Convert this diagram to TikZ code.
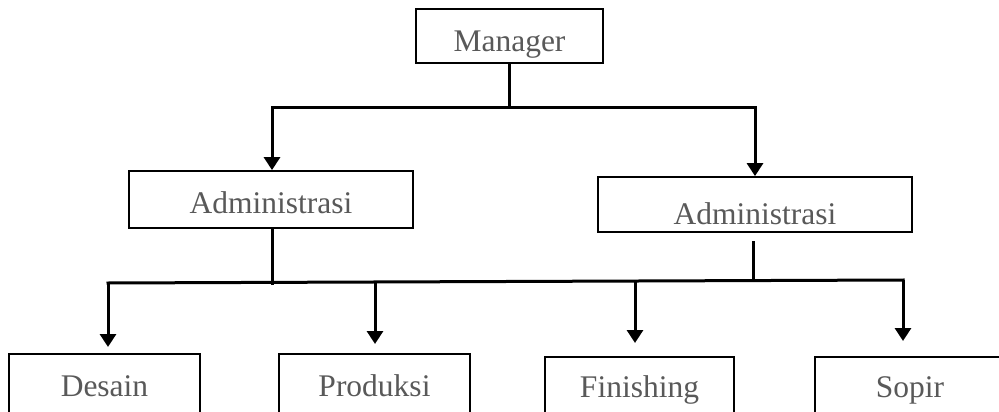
\documentclass[tikz,border=0pt]{standalone}
\usepackage{fontspec}
\setmainfont{Liberation Serif}
\usetikzlibrary{arrows.meta}
\begin{document}
\begin{tikzpicture}[x=1pt,y=-1pt,
  box/.style={draw=black,line width=1.8pt,fill=white,rectangle,inner sep=0pt,
    text=black!65,font=\fontsize{31.5}{36}\selectfont,text depth=0pt},
  conn/.style={line width=3pt,line cap=rect},
  arr/.style={line width=3pt,-{Triangle[width=16pt,length=13pt]}}]
\useasboundingbox (0,0) rectangle (999,412);
\clip (0,0) rectangle (999,412);
\node[box,minimum width=187pt,minimum height=54pt,text height=32pt] (man) at (509.5,36) {Manager};
\node[box,minimum width=284pt,minimum height=57pt,text height=27pt] (adl) at (271,199.5) {Administrasi};
\node[box,minimum width=314pt,minimum height=55pt,text height=39pt] (adr) at (755,204.5) {Administrasi};
\node[box,minimum width=191pt,minimum height=62pt,text height=22pt] (des) at (104.5,385) {Desain};
\node[box,minimum width=191pt,minimum height=62pt,text height=22pt] (pro) at (374.5,385) {Produksi};
\node[box,minimum width=189pt,minimum height=62pt,text height=18pt] (fin) at (639.5,388) {Finishing};
\node[box,minimum width=190pt,minimum height=62pt,text height=18pt] (sop) at (910,388) {Sopir};
% top level
\coordinate (mj) at (man.south |- 0,107);
\coordinate (tl) at (272,107);
\coordinate (tr) at (755,107);
\draw[conn] (man.south) -- (mj);
\draw[conn] (tl) -- (tr);
\draw[arr] (tl) -- (tl |- adl.north);
\draw[arr] (tr) -- (tr |- adr.north);
% second level
\coordinate (bl) at (108,283);
\coordinate (br) at (903,280);
\coordinate (lj) at (272,283);
\coordinate (rj) at (753,280.5);
\coordinate (rs) at (753,242);
\draw[conn] (adl.south -| lj) -- (lj);
\draw[conn] (rs) -- (rj);
\draw[conn] (bl) -- (br);
\coordinate (p1) at (375,282);
\coordinate (p2) at (635,281);
\draw[arr] (bl) -- (108,347);
\draw[arr] (p1) -- (375,344);
\draw[arr] (p2) -- (635,343);
\draw[arr] (br) -- (903,341);
\end{tikzpicture}
\end{document}
